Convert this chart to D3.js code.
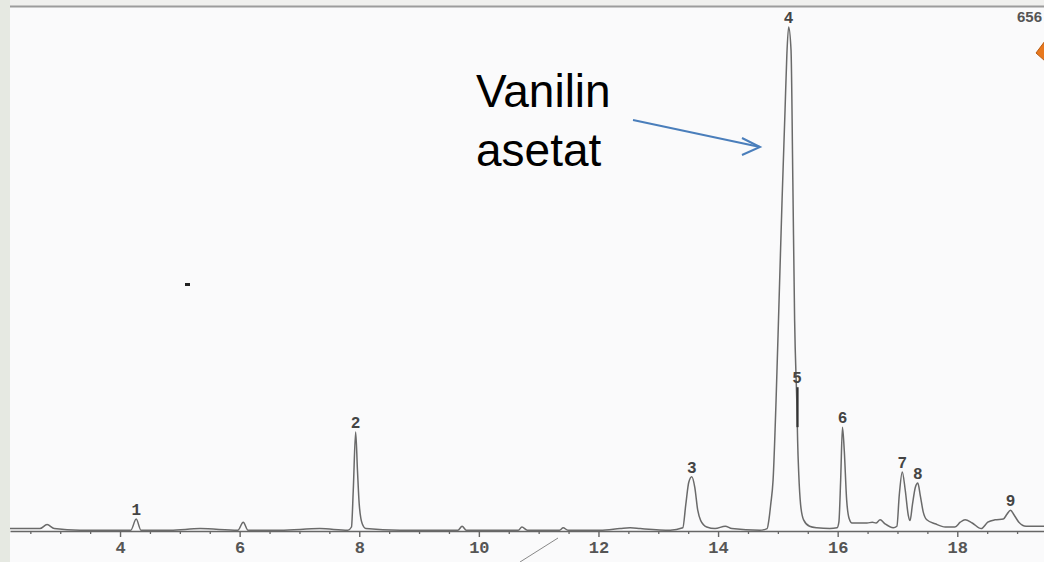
<!DOCTYPE html>
<html>
<head>
<meta charset="utf-8">
<script src="https://cdn.jsdelivr.net/npm/d3@7"></script>
<style>
  html, body { margin: 0; padding: 0; background: #f2f2f0; }
  #chart { width: 1044px; height: 562px; }
</style>
</head>
<body>
<div id="chart"></div>
<script>
// Retention time (min) and detector signal
const traceTime = [
  2.16, 2.66, 2.78, 2.90, 3.33, 3.67, 3.97, 4.18, 4.27, 4.35,
  4.84, 5.34, 5.97, 6.06, 6.14, 6.68, 7.34, 7.81, 7.87, 7.90,
  7.94, 7.97, 8.00, 8.05, 8.11, 8.68, 9.18, 9.65, 9.72, 9.79,
  10.35, 10.66, 10.72, 10.81, 11.35, 11.41, 11.49, 12.03, 12.36, 12.53,
  12.70, 13.20, 13.41, 13.46, 13.51, 13.56, 13.61, 13.66, 13.71, 13.81,
  13.95, 14.12, 14.23, 14.70, 14.82, 14.85, 14.88, 14.92, 14.97, 15.02,
  15.07, 15.12, 15.15, 15.18, 15.22, 15.25, 15.28, 15.32, 15.33, 15.35,
  15.38, 15.43, 15.53, 15.65, 15.87, 15.99, 16.02, 16.05, 16.08, 16.11,
  16.15, 16.19, 16.24, 16.49, 16.58, 16.64, 16.71, 16.79, 16.93, 16.99,
  17.03, 17.08, 17.13, 17.18, 17.21, 17.25, 17.30, 17.34, 17.38, 17.43,
  17.49, 17.63, 17.80, 17.96, 18.05, 18.13, 18.25, 18.40, 18.51, 18.63,
  18.77, 18.83, 18.89, 18.95, 19.03, 19.15, 19.45
];
const traceSignal = [
  3, 3, 8, 3, 1, 1, 1, 1, 15, 1,
  1, 3, 1, 11, 1, 1, 3, 1, 5, 51,
  124, 76, 33, 9, 3, 1, 1, 1, 6, 1,
  1, 1, 5, 1, 1, 4, 1, 1, 3, 4,
  3, 1, 4, 33, 61, 68, 55, 26, 13, 5,
  3, 6, 3, 1, 3, 14, 33, 64, 164, 289,
  414, 527, 596, 631, 602, 439, 264, 151, 114, 70,
  33, 14, 6, 4, 3, 4, 11, 64, 130, 101,
  39, 16, 10, 10, 11, 10, 14, 9, 4, 6,
  45, 74, 51, 20, 13, 33, 55, 60, 45, 24,
  14, 9, 5, 5, 11, 14, 10, 3, 11, 14,
  15, 21, 26, 20, 11, 6, 6
];

// Numbered peaks
const peakLabels = ['1', '2', '3', '4', '5', '6', '7', '8', '9'];
const peakTimes = [4.27, 7.94, 13.56, 15.18, 15.32, 16.08, 17.08, 17.34, 18.89];
const peakHeights = [15, 124, 68, 631, 180, 130, 74, 60, 26];

// Axis ticks
const majorTicks = [4, 6, 8, 10, 12, 14, 16, 18];
const minorTicks = [2.5, 3, 3.5, 4.5, 5, 5.5, 6.5, 7, 7.5, 8.5, 9, 9.5, 10.5, 11, 11.5,
                    12.5, 13, 13.5, 14.5, 15, 15.5, 16.5, 17, 17.5, 18.5, 19];
const fullScale = 656;

const annotationLines = ['Vanilin', 'asetat'];

function renderChromatogram() {
    const width = 1044;
    const height = 562;

    const svg = d3.select('#chart')
        .append('svg')
        .attr('width', width)
        .attr('height', height);

    // Paper background and slide edges
    svg.append('rect')
        .attr('width', width).attr('height', height)
        .attr('fill', '#f0f0ee');
    svg.append('rect')
        .attr('x', 10).attr('y', 7)
        .attr('width', width - 10).attr('height', height - 7)
        .attr('fill', '#fafafb');
    svg.append('rect')
        .attr('x', 0).attr('y', 0)
        .attr('width', 10).attr('height', height)
        .attr('fill', '#e6e9e2');
    svg.append('line')
        .attr('x1', 10).attr('x2', width)
        .attr('y1', 6.5).attr('y2', 6.5)
        .attr('stroke', '#9c9c9c')
        .attr('stroke-width', 2);

    const x = d3.scaleLinear().domain([2.16, 19.45]).range([10, 1044]);
    const y = d3.scaleLinear().domain([0, fullScale]).range([531, 7]);

    const monoFont = '"Liberation Mono", "DejaVu Sans Mono", monospace';

    // Time axis
    const axisG = svg.append('g')
        .attr('transform', `translate(0,${y(0)})`);

    axisG.append('g')
        .call(d3.axisBottom(x).tickValues(minorTicks).tickSize(3).tickSizeOuter(0).tickFormat(''))
        .call(g => g.select('.domain').attr('stroke', '#666').attr('stroke-width', 1.4))
        .call(g => g.selectAll('.tick line').attr('stroke', '#666').attr('stroke-width', 1.3));

    axisG.append('g')
        .call(d3.axisBottom(x).tickValues(majorTicks).tickSize(6).tickPadding(4).tickSizeOuter(0))
        .call(g => g.select('.domain').remove())
        .call(g => g.selectAll('.tick line').attr('stroke', '#666').attr('stroke-width', 1.4))
        .call(g => g.selectAll('.tick text')
            .attr('fill', '#555')
            .attr('font-family', monoFont)
            .attr('font-weight', 'bold')
            .attr('font-size', '17px'));

    // Detector trace
    const points = traceTime.map((t, i) => [t, traceSignal[i]]);
    const line = d3.line()
        .x(d => x(d[0]))
        .y(d => y(d[1]))
        .curve(d3.curveMonotoneX);

    svg.append('path')
        .datum(points)
        .attr('fill', 'none')
        .attr('stroke', '#6a6a6a')
        .attr('stroke-width', 1.5)
        .attr('stroke-linejoin', 'round')
        .attr('d', line);

    // Pen mark on the shoulder of peak 5
    svg.append('line')
        .attr('x1', x(peakTimes[4]) + 0.5).attr('x2', x(peakTimes[4]) + 0.5)
        .attr('y1', y(peakHeights[4])).attr('y2', y(peakHeights[5]))
        .attr('stroke', '#333')
        .attr('stroke-width', 2.2);

    // Peak numbers
    svg.selectAll('.peak-label')
        .data(peakLabels)
        .enter()
        .append('text')
        .attr('class', 'peak-label')
        .attr('x', (d, i) => x(peakTimes[i]))
        .attr('y', (d, i) => y(peakHeights[i]) - 4)
        .attr('text-anchor', 'middle')
        .attr('font-family', monoFont)
        .attr('font-weight', 'bold')
        .attr('font-size', '16px')
        .attr('fill', '#444')
        .text(d => d);

    // Full scale value, top right
    svg.append('text')
        .attr('x', 1042).attr('y', 22)
        .attr('text-anchor', 'end')
        .attr('font-family', '"Liberation Sans", Arial, sans-serif')
        .attr('font-weight', 'bold')
        .attr('font-size', '15px')
        .attr('fill', '#555')
        .text(fullScale);

    // Orange slide ornament cut at the right edge
    svg.append('path')
        .attr('d', 'M1036,53L1045,41L1045,61Z')
        .attr('fill', '#e8781e')
        .attr('stroke', '#b85c12')
        .attr('stroke-width', 1);

    // Annotation text and arrow
    svg.selectAll('.annotation')
        .data(annotationLines)
        .enter()
        .append('text')
        .attr('class', 'annotation')
        .attr('x', 476)
        .attr('y', (d, i) => 107 + i * 59)
        .attr('font-family', '"Liberation Sans", Arial, sans-serif')
        .attr('font-size', '46px')
        .attr('fill', '#000')
        .text(d => d);

    const arrowTip = [760, 147];
    svg.append('line')
        .attr('x1', 633).attr('y1', 120)
        .attr('x2', arrowTip[0]).attr('y2', arrowTip[1])
        .attr('stroke', '#4a7ebb')
        .attr('stroke-width', 2);
    svg.append('path')
        .attr('d', `M742,138L${arrowTip[0]},${arrowTip[1]}L742,155`)
        .attr('fill', 'none')
        .attr('stroke', '#4a7ebb')
        .attr('stroke-width', 2);

    // Stray marks on the scan
    svg.append('line')
        .attr('x1', 520).attr('y1', 562)
        .attr('x2', 558).attr('y2', 538)
        .attr('stroke', '#888')
        .attr('stroke-width', 1);
    svg.append('rect')
        .attr('x', 185).attr('y', 283)
        .attr('width', 5).attr('height', 3)
        .attr('fill', '#222');
}

renderChromatogram();
</script>
</body>
</html>
